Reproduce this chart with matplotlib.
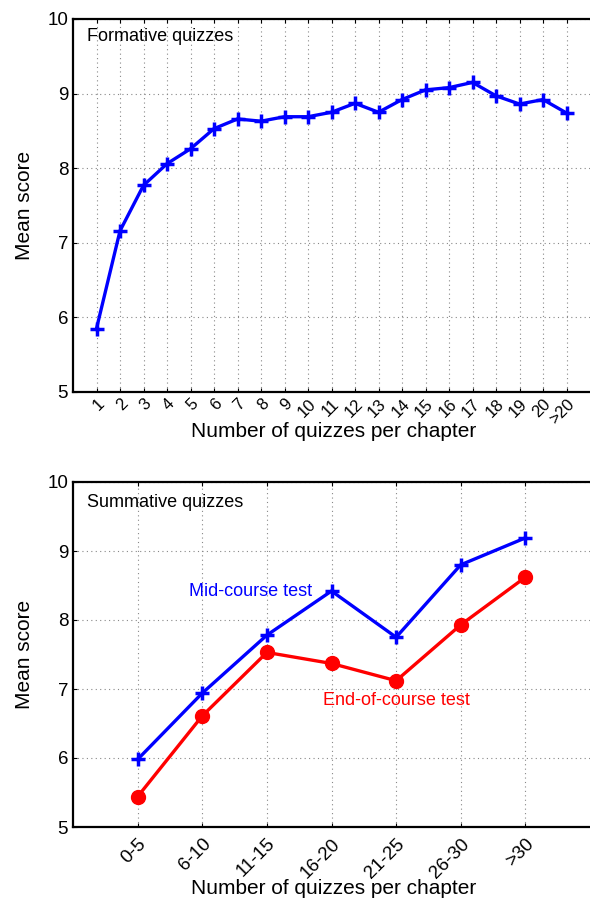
import matplotlib
matplotlib.use('Agg')
import matplotlib.pyplot as plt

plt.rcParams['font.family'] = ['Liberation Sans', 'DejaVu Sans']

# formative quizzes
form_labels = [str(i) for i in range(1, 21)] + ['>20']
form_scores = [5.85, 7.16, 7.77, 8.06, 8.26, 8.53, 8.66, 8.63, 8.69, 8.69, 8.75,
               8.87, 8.75, 8.92, 9.05, 9.08, 9.15, 8.97, 8.86, 8.92, 8.74]

# summative quizzes
summ_labels = ['0-5', '6-10', '11-15', '16-20', '21-25', '26-30', '>30']
mid_scores = [5.98, 6.94, 7.78, 8.42, 7.75, 8.80, 9.19]
end_scores = [5.44, 6.61, 7.53, 7.37, 7.12, 7.93, 8.62]

fig = plt.figure(figsize=(5.9, 9), dpi=100)
W, H = 590.0, 900.0
ax1 = fig.add_axes([73 / W, 1 - 392 / H, (590 - 73) / W, (392 - 19) / H])
ax2 = fig.add_axes([73 / W, 1 - 827 / H, (590 - 73) / W, (827 - 482) / H])


def style(ax, labels, xmax, xlab_y, xsize, xpad):
    ax.set_xlim(0, xmax)
    ax.set_ylim(5, 10)
    ax.set_xticks(range(1, len(labels) + 1))
    ax.set_xticklabels(labels, rotation=45, ha='right', rotation_mode='anchor')
    ax.set_yticks([5, 6, 7, 8, 9, 10])
    ax.tick_params(direction='in', top=True, length=3, labelsize=13.5, width=0.8)
    ax.tick_params(axis='x', pad=xpad, labelsize=xsize)
    ax.grid(True, linestyle=(0, (1, 3)), color='#888888', linewidth=0.8)
    ax.spines['right'].set_visible(False)
    for s in ['top', 'left', 'bottom']:
        ax.spines[s].set_linewidth(1.6)
    ax.set_xlabel('Number of quizzes per chapter', fontsize=15, va='center')
    ax.xaxis.set_label_coords(0.505, xlab_y)
    ax.set_ylabel('Mean score', fontsize=15, va='center')
    ax.yaxis.set_label_coords(-0.093, 0.5)


x1 = list(range(1, len(form_scores) + 1))
ax1.plot(x1, form_scores, color='#0000ff', lw=2.4, marker='+', ms=10, mew=2.5, clip_on=False)
style(ax1, form_labels, 22, -0.107, 12, 3)
ax1.text(0.027, 0.954, 'Formative quizzes', transform=ax1.transAxes, fontsize=13, va='center')

x2 = list(range(1, len(mid_scores) + 1))
ax2.plot(x2, mid_scores, color='#0000ff', lw=2.4, marker='+', ms=10, mew=2.5)
ax2.plot(x2, end_scores, color='#ff0000', lw=2.4, marker='o', ms=10)
style(ax2, summ_labels, 8, -0.177, 13.5, 6)
ax2.text(0.027, 0.94, 'Summative quizzes', transform=ax2.transAxes, fontsize=13, va='center')
ax2.text(1.79, 8.42, 'Mid-course test', color='#0000ff', fontsize=13, va='center')
ax2.text(3.87, 6.83, 'End-of-course test', color='#ff0000', fontsize=13, va='center')

fig.savefig('out.png', dpi=100)
